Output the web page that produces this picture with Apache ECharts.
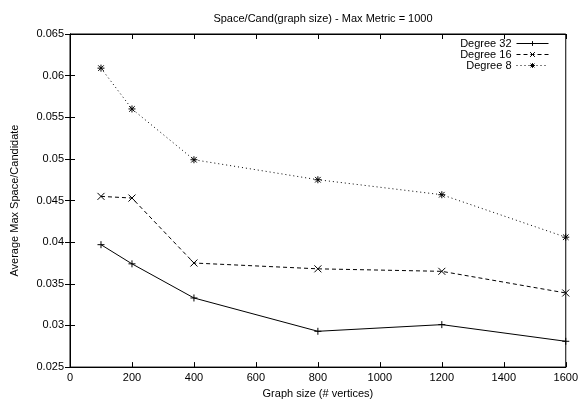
<!DOCTYPE html>
<html><head><meta charset="utf-8">
<script src="https://cdn.jsdelivr.net/npm/echarts@6/dist/echarts.min.js"></script>
<style>html,body{margin:0;padding:0;background:#fff}#c{width:581px;height:404px}</style>
</head><body><div id="c"></div>
<script>
const xValues = [100, 200, 400, 800, 1200, 1600];
const deg32 = [0.0397, 0.0374, 0.0333, 0.0293, 0.0301, 0.0281];
const deg16 = [0.0455, 0.0453, 0.0375, 0.0368, 0.0365, 0.0339];
const deg8 = [0.0609, 0.0560, 0.0499, 0.0475, 0.0457, 0.0406];
const seriesNames = ['Degree 32', 'Degree 16', 'Degree 8'];

const FONT = 'Liberation Sans';
const plusPath = 'path://M0,5L10,5M5,0L5,10';
const crossPath = 'path://M1,1L9,9M1,9L9,1';
const starPath = 'path://M0,5L10,5M5,0L5,10M1,1L9,9M1,9L9,1';

function mk(name, vals, sym, type) {
  return {
    name: name, type: 'line', data: xValues.map((x, i) => [x, vals[i]]),
    symbol: sym, symbolSize: 7, showSymbol: true,
    lineStyle: { color: '#000', width: 1, type: type },
    itemStyle: { color: 'rgba(0,0,0,0)', borderColor: '#000', borderWidth: 1 },
    emphasis: { disabled: true }, animation: false
  };
}
const chart = echarts.init(document.getElementById('c'));
const yFmt = v => String(+v.toFixed(3));
chart.setOption({
  animation: false,
  textStyle: { fontFamily: FONT },
  title: { text: 'Space/Cand(graph size) - Max Metric = 1000', left: 318, textAlign: 'center', top: 8,
    textStyle: { fontFamily: FONT, fontSize: 11, fontWeight: 'normal', color: '#000' } },
  grid: { left: 70, right: 15, top: 34, bottom: 31, show: true, borderColor: '#000', borderWidth: 1 },
  legend: {
    data: seriesNames, orient: 'vertical', right: 32, top: 38, align: 'right',
    itemWidth: 32, itemHeight: 6, itemGap: 0, padding: 0,
    textStyle: { fontFamily: FONT, fontSize: 11, color: '#000', padding: [0, 0, 0, 0] },
    lineStyle: { width: 1, color: '#000' },
    itemStyle: { borderWidth: 1, borderColor: '#000', color: 'rgba(0,0,0,0)' },
    inactiveColor: '#000'
  },
  xAxis: [{
    type: 'value', min: 0, max: 1600, interval: 200, position: 'bottom',
    name: 'Graph size (# vertices)', nameLocation: 'middle', nameGap: 12,
    nameTextStyle: { fontFamily: FONT, fontSize: 11, color: '#000' },
    axisLine: { show: true, lineStyle: { color: '#000' } },
    axisTick: { inside: true, length: 5, lineStyle: { color: '#000' } },
    axisLabel: { fontFamily: FONT, fontSize: 11, color: '#000', margin: 5, formatter: v => String(v) },
    splitLine: { show: false }
  }, {
    type: 'value', min: 0, max: 1600, interval: 200, position: 'top',
    axisLine: { show: true, lineStyle: { color: '#000' } },
    axisTick: { inside: true, length: 5, lineStyle: { color: '#000' } },
    axisLabel: { show: false }, splitLine: { show: false }
  }],
  yAxis: [{
    type: 'value', min: 0.025, max: 0.065, interval: 0.005, position: 'left',
    name: 'Average Max Space/Candidate', nameLocation: 'middle', nameGap: 50,
    nameTextStyle: { fontFamily: FONT, fontSize: 11, color: '#000' },
    axisLine: { show: true, lineStyle: { color: '#000' } },
    axisTick: { inside: true, length: 5, lineStyle: { color: '#000' } },
    axisLabel: { fontFamily: FONT, fontSize: 11, color: '#000', margin: 6, formatter: yFmt },
    splitLine: { show: false }
  }, {
    type: 'value', min: 0.025, max: 0.065, interval: 0.005, position: 'right',
    axisLine: { show: true, lineStyle: { color: '#000' } },
    axisTick: { inside: true, length: 5, lineStyle: { color: '#000' } },
    axisLabel: { show: false }, splitLine: { show: false }
  }],
  series: [
    mk(seriesNames[0], deg32, plusPath, 'solid'),
    mk(seriesNames[1], deg16, crossPath, [4, 3]),
    mk(seriesNames[2], deg8, starPath, [1, 3])
  ]
});
</script></body></html>
